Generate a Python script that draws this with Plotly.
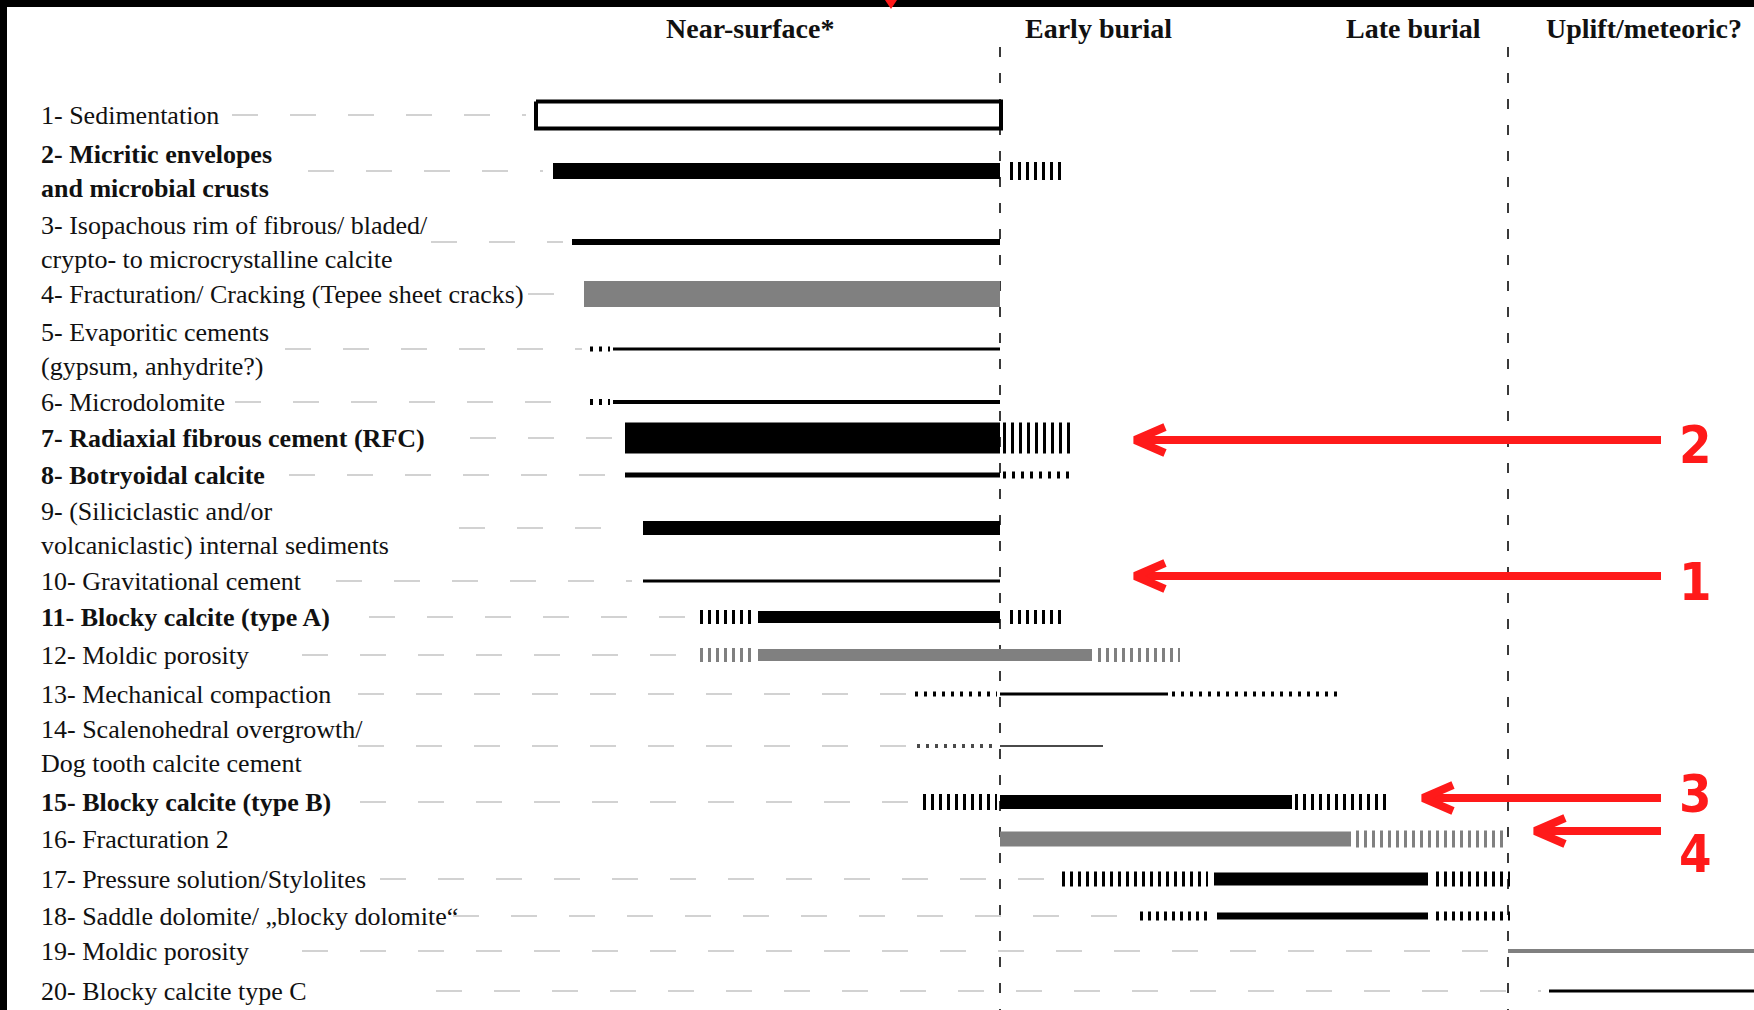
import plotly.graph_objects as go

# diagenetic stages (header) and the two stage boundaries
stage_names = ["Near-surface*", "Early burial", "Late burial", "Uplift/meteoric?"]
stage_x = [750, 1098, 1413, 1644]
boundary_x = [1000, 1508]

# rows of the paragenetic sequence
labels = [
    "1- Sedimentation",
    "2- Micritic envelopes<br>and microbial crusts",
    "3- Isopachous rim of fibrous/ bladed/<br>crypto- to microcrystalline calcite",
    "4- Fracturation/ Cracking (Tepee sheet cracks)",
    "5- Evaporitic cements<br>(gypsum, anhydrite?)",
    "6- Microdolomite",
    "7- Radiaxial fibrous cement (RFC)",
    "8- Botryoidal calcite",
    "9- (Siliciclastic and/or<br>volcaniclastic) internal sediments",
    "10- Gravitational cement",
    "11- Blocky calcite (type A)",
    "12- Moldic porosity",
    "13- Mechanical compaction",
    "14- Scalenohedral overgrowth/<br>Dog tooth calcite cement",
    "15- Blocky calcite (type B)",
    "16- Fracturation 2",
    "17- Pressure solution/Stylolites",
    "18- Saddle dolomite/ \u201eblocky dolomite\u201c",
    "19- Moldic porosity",
    "20- Blocky calcite type C",
]
bold_rows = [2, 7, 8, 11, 15]
grey_rows = [4, 12, 16, 19]
row_y = [115, 171, 242, 294, 349, 402, 438, 475, 528, 581,
         617, 655, 694, 746, 802, 839, 879, 916, 951, 991]
# relative abundance, drawn as bar weight
row_weight = [27, 16, 6, 26, 3, 4, 31, 5, 14, 3,
              12, 12, 3, 2, 14, 15, 13, 7, 4, 3]

# grey guide lines from label to bar
leader_start = [232, 308, 431, 528, 285, 235, 470, 289, 459, 336,
                369, 302, 358, 358, 360, None, 380, 453, 302, 436]
leader_end = [526, 543, 563, 559, 582, 582, 613, 613, 632, 632,
              694, 694, 906, 908, 912, None, 1051, 1132, 1499, 1541]

# timing segments: (row, start, end, kind)
segments = [
    (1, 536, 1001, "open"),
    (2, 553, 1000, "solid"), (2, 1010, 1063, "hatch"),
    (3, 572, 1000, "solid"),
    (4, 584, 1000, "solid"),
    (5, 590, 610, "dot"), (5, 613, 1000, "solid"),
    (6, 590, 610, "dot"), (6, 613, 1000, "solid"),
    (7, 625, 1000, "solid"), (7, 1003, 1074, "hatch"),
    (8, 625, 1000, "solid"), (8, 1003, 1074, "dot"),
    (9, 643, 1000, "solid"),
    (10, 643, 1000, "solid"),
    (11, 700, 754, "hatch"), (11, 758, 1000, "solid"), (11, 1010, 1063, "hatch"),
    (12, 700, 754, "hatch"), (12, 758, 1092, "solid"), (12, 1098, 1180, "hatch"),
    (13, 915, 997, "dot"), (13, 1000, 1168, "solid"), (13, 1172, 1342, "dot"),
    (14, 917, 996, "dot"), (14, 1000, 1103, "solid"),
    (15, 923, 997, "hatch"), (15, 1000, 1292, "solid"), (15, 1295, 1389, "hatch"),
    (16, 1000, 1351, "solid"), (16, 1356, 1507, "hatch"),
    (17, 1062, 1208, "hatch"), (17, 1214, 1428, "solid"), (17, 1436, 1510, "hatch"),
    (18, 1140, 1211, "hatch"), (18, 1217, 1428, "solid"), (18, 1436, 1510, "hatch"),
    (19, 1508, 1754, "solid"),
    (20, 1549, 1754, "solid"),
]

# red arrows added on top of the figure
arrow_labels = ["2", "1", "3", "4"]
arrow_y = [440, 576, 798, 831]
arrow_tip = [1135, 1135, 1423, 1535]
arrow_tail = [1661, 1661, 1661, 1661]
arrow_label_y = [445, 582, 794, 854]

SERIF = "Liberation Serif, Times New Roman, serif"
RED = "#ff1a1a"

fig = go.Figure()

# leader lines
for i, (x0, x1) in enumerate(zip(leader_start, leader_end)):
    if x0 is None:
        continue
    fig.add_trace(go.Scatter(x=[x0, x1], y=[row_y[i], row_y[i]], mode="lines",
                             line=dict(color="#d2d2d2", width=2, dash="26px,32px")))

# stage boundaries
for bx in boundary_x:
    fig.add_trace(go.Scatter(x=[bx, bx], y=[47, 1010], mode="lines",
                             line=dict(color="#3a3a3a", width=2, dash="10px,16px")))

# bars
for row, x0, x1, kind in segments:
    y = row_y[row - 1]
    w = row_weight[row - 1]
    col = "#808080" if row in grey_rows else "#000000"
    if row == 14:
        col = "#4a4a4a"
    if kind == "open":
        h = w / 2
        fig.add_trace(go.Scatter(x=[x0, x1, x1, x0, x0], y=[y - h, y - h, y + h, y + h, y - h],
                                 mode="lines", fill="toself", fillcolor="white",
                                 line=dict(color="black", width=4)))
    elif kind == "solid":
        fig.add_trace(go.Scatter(x=[x0, x1], y=[y, y], mode="lines",
                                 line=dict(color=col, width=w)))
    elif kind == "hatch":
        hw = w if w > 20 else w + 2
        fig.add_trace(go.Scatter(x=[x0, x1], y=[y, y], mode="lines",
                                 line=dict(color=col, width=hw, dash="3px,5px")))
    else:
        fig.add_trace(go.Scatter(x=[x0, x1], y=[y, y], mode="lines",
                                 line=dict(color=col, width=max(w + 2, 4), dash="3px,6px")))

# red arrows
for lab, ay, tip, tail, ly in zip(arrow_labels, arrow_y, arrow_tip, arrow_tail, arrow_label_y):
    fig.add_trace(go.Scatter(x=[tail, tip + 4], y=[ay, ay], mode="lines",
                             line=dict(color=RED, width=8)))
    fig.add_trace(go.Scatter(x=[tip + 30, tip, tip + 30], y=[ay - 13, ay, ay + 13], mode="lines",
                             line=dict(color=RED, width=8)))
    fig.add_annotation(x=1695, y=ly, text="<b>" + lab + "</b>", showarrow=False,
                       xanchor="center", yanchor="middle",
                       font=dict(family="Liberation Sans Narrow, DejaVu Sans Condensed, Roboto, sans-serif",
                                 size=52, color=RED))

# row labels
for i, txt in enumerate(labels):
    if i + 1 in bold_rows:
        txt = "<b>" + txt.replace("<br>", "</b><br><b>") + "</b>"
    fig.add_annotation(x=39, y=row_y[i], text=txt, showarrow=False, xanchor="left",
                       yanchor="middle", align="left",
                       font=dict(family=SERIF, size=26, color="#111111"))

# stage headers
for name, sx in zip(stage_names, stage_x):
    fig.add_annotation(x=sx, y=28, text="<b>" + name + "</b>", showarrow=False,
                       xanchor="center", yanchor="middle",
                       font=dict(family=SERIF, size=28, color="#111111"))

# black frame at top and left edge of the screenshot
fig.add_shape(type="rect", x0=0, x1=7, y0=0, y1=1010, fillcolor="black", line_width=0, layer="above")
fig.add_shape(type="rect", x0=0, x1=1754, y0=0, y1=7, fillcolor="black", line_width=0, layer="above")
fig.add_shape(type="path", path="M 885,0 L 897,0 L 891,9 Z", fillcolor=RED, line_width=0, layer="above")

fig.update_layout(
    width=1754,
    height=1010,
    margin=dict(l=0, r=0, t=0, b=0),
    plot_bgcolor="white",
    paper_bgcolor="white",
    showlegend=False,
    hovermode=False,
    xaxis=dict(range=[0, 1754], visible=False, fixedrange=True),
    yaxis=dict(range=[1010, 0], visible=False, fixedrange=True),
)

fig.write_html("out.html", config={"displayModeBar": False},
               post_script="document.body.style.margin='0px';")
